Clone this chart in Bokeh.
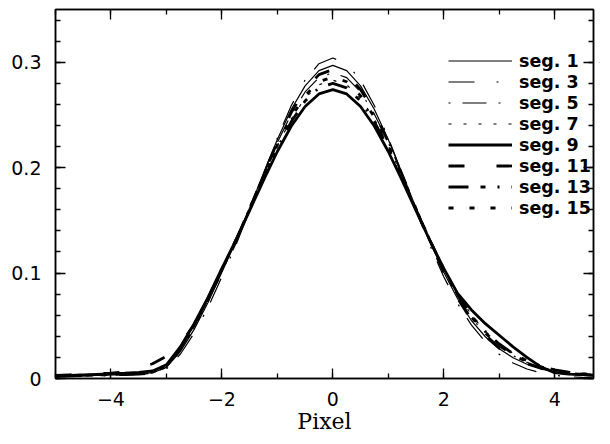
from bokeh.plotting import figure
from bokeh.models import (LinearAxis, SingleIntervalTicker, Legend, LegendItem, Range1d)
from bokeh.embed import file_html
from bokeh.resources import INLINE

# ---- data ----
pixel = [-5.0, -4.75, -4.5, -4.25, -4.0, -3.75, -3.5, -3.25, -3.0, -2.75,
         -2.5, -2.25, -2.0, -1.75, -1.5, -1.25, -1.0, -0.75, -0.5, -0.25,
         0.0,
         0.25, 0.5, 0.75, 1.0, 1.25, 1.5, 1.75, 2.0, 2.25, 2.5,
         2.75, 3.0, 3.25, 3.5, 3.75, 4.0, 4.25, 4.5, 4.75, 5.0]

seg1 = [.0020, .0023, .0026, .0030, .0034, .0038, .0043, .0055, .0105, .0255,
        .0466, .0720, .1007, .1298, .1617, .1947, .2267, .2551, .2776, .2920,
        .2970,
        .2920, .2776, .2551, .2267, .1947, .1617, .1298, .1007, .0756, .0548,
        .0396, .0282, .0197, .0135, .0092, .0062, .0042, .0030, .0022, .0017]

seg3 = [.0015, .0018, .0020, .0023, .0026, .0030, .0035, .0045, .0090, .0230,
        .0430, .0675, .0965, .1263, .1594, .1941, .2282, .2587, .2830, .2986,
        .3040,
        .2986, .2830, .2587, .2282, .1941, .1594, .1263, .0965, .0711, .0506,
        .0347, .0230, .0147, .0090, .0054, .0031, .0017, .0010, .0006, .0004]

seg5 = [.0020, .0022, .0025, .0028, .0032, .0036, .0040, .0052, .0110, .0270,
        .0489, .0743, .1030, .1313, .1620, .1936, .2239, .2507, .2718, .2854,
        .2900,
        .2854, .2718, .2507, .2239, .1936, .1620, .1313, .1030, .0782, .0575,
        .0422, .0305, .0217, .0153, .0106, .0074, .0050, .0035, .0025, .0018]

seg7 = [.0018, .0020, .0023, .0026, .0030, .0034, .0039, .0050, .0115, .0282,
        .0510, .0767, .1050, .1324, .1620, .1921, .2209, .2461, .2660, .2786,
        .2830,
        .2786, .2660, .2461, .2209, .1921, .1620, .1324, .1050, .0807, .0601,
        .0447, .0328, .0237, .0170, .0122, .0085, .0058, .0040, .0028, .0020]

seg9 = [.0025, .0030, .0035, .0040, .0045, .0050, .0058, .0072, .0130, .0300,
        .0520, .0770, .1044, .1309, .1593, .1880, .2153, .2393, .2580, .2699,
        .2740,
        .2699, .2580, .2393, .2153, .1880, .1593, .1309, .1044, .0808, .0650,
        .0520, .0410, .0300, .0200, .0110, .0055, .0042, .0036, .0032, .0030]

seg11 = [.0030, .0035, .0040, .0045, .0050, .0062, .0095, .0140, .0210, .0330,
         .0510, .0761, .1009, .1296, .1609, .1932, .2245, .2522, .2741, .2882,
         .2930,
         .2882, .2741, .2522, .2245, .1932, .1609, .1296, .1009, .0761, .0554,
         .0403, .0287, .0202, .0140, .0097, .0066, .0048, .0038, .0032, .0028]

seg13 = [.0022, .0026, .0030, .0034, .0038, .0043, .0048, .0060, .0118, .0282,
         .0505, .0758, .1039, .1310, .1603, .1901, .2185, .2435, .2632, .2757,
         .2800,
         .2757, .2632, .2435, .2185, .1901, .1603, .1310, .1039, .0798, .0594,
         .0445, .0327, .0236, .0168, .0118, .0082, .0060, .0045, .0036, .0030]

seg15 = [.0024, .0028, .0032, .0036, .0040, .0045, .0050, .0062, .0112, .0272,
         .0494, .0747, .1031, .1309, .1611, .1920, .2216, .2478, .2683, .2815,
         .2860,
         .2815, .2683, .2478, .2216, .1920, .1611, .1309, .1031, .0786, .0581,
         .0432, .0314, .0222, .0157, .0110, .0077, .0055, .0042, .0034, .0028]

labels = ["seg. 1", "seg. 3", "seg. 5", "seg. 7", "seg. 9", "seg. 11", "seg. 13", "seg. 15"]
series = [seg1, seg3, seg5, seg7, seg9, seg11, seg13, seg15]

x_major = [-4, -2, 0, 2, 4]
y_major = [0, 0.1, 0.2, 0.3]

# styles: (line width, dash)
styles = [
    (1.2, "solid"),
    (1.2, "26 22 2 14"),
    (1.2, "2 12 24 12"),
    (1.2, "3 12"),
    (2.8, "solid"),
    (2.8, "16 32"),
    (2.8, "20 12 5 12 2 12"),
    (2.8, "5 16"),
]

TICK_FONT = "DejaVu Sans"

p = figure(width=602, height=436, x_range=Range1d(-5, 4.7), y_range=Range1d(0, 0.35),
           output_backend="svg", toolbar_location=None,
           min_border_left=55, min_border_right=0, min_border_top=0, min_border_bottom=58)
p.background_fill_color = "white"
p.border_fill_color = "white"
p.outline_line_color = "black"
p.outline_line_width = 1.5
p.xgrid.visible = False
p.ygrid.visible = False

def style_axis(ax, show_labels, majors=None):
    ax.axis_line_color = "black"
    ax.axis_line_width = 1.5
    ax.major_tick_in = 10
    ax.minor_tick_in = 5
    ax.major_tick_out = 0
    ax.minor_tick_out = 0
    ax.major_tick_line_color = "black"
    ax.minor_tick_line_color = "black"
    ax.major_tick_line_width = 1.3
    ax.minor_tick_line_width = 1.3
    if show_labels:
        ax.major_label_text_font = TICK_FONT
        ax.major_label_text_font_size = "19px"
        ax.major_label_text_color = "black"
    else:
        # frame ticks only (labels are blank)
        ax.major_label_overrides = {v: " " for v in majors}
        ax.major_label_text_font_size = "1px"

xb = p.xaxis[0]
xb.ticker = SingleIntervalTicker(interval=2, num_minor_ticks=2)
xb.major_label_overrides = {-4: "\u22124", -2: "\u22122"}
style_axis(xb, True)
xb.major_label_standoff = 13
xb.axis_label = "Pixel"
xb.axis_label_text_font = "DejaVu Serif"
xb.axis_label_text_font_size = "22px"
xb.axis_label_text_font_style = "normal"
xb.axis_label_text_color = "black"
xb.axis_label_standoff = 0

yl = p.yaxis[0]
yl.ticker = SingleIntervalTicker(interval=0.1, num_minor_ticks=5)
yl.major_label_overrides = {0: "0"}
style_axis(yl, True)
yl.major_label_standoff = 14

xt = LinearAxis(ticker=SingleIntervalTicker(interval=2, num_minor_ticks=2))
style_axis(xt, False, x_major)
p.add_layout(xt, "above")

yr = LinearAxis(ticker=SingleIntervalTicker(interval=0.1, num_minor_ticks=5))
style_axis(yr, False, y_major)
p.add_layout(yr, "right")

items = []
for lab, ys, (w, dash) in zip(labels, series, styles):
    r = p.line(pixel, ys, line_color="black", line_width=w, line_dash=dash)
    items.append(LegendItem(label=lab, renderers=[r]))

legend = Legend(items=items, location=(393, 160))
legend.border_line_alpha = 0
legend.background_fill_alpha = 0
legend.glyph_width = 64
legend.glyph_height = 21
legend.label_height = 21
legend.spacing = 0
legend.padding = 0
legend.margin = 0
legend.label_standoff = 7
legend.label_text_font = TICK_FONT
legend.label_text_font_size = "17.5px"
legend.label_text_font_style = "bold"
legend.label_text_color = "black"
p.add_layout(legend)

open("out.html", "w").write(file_html(p, INLINE))
